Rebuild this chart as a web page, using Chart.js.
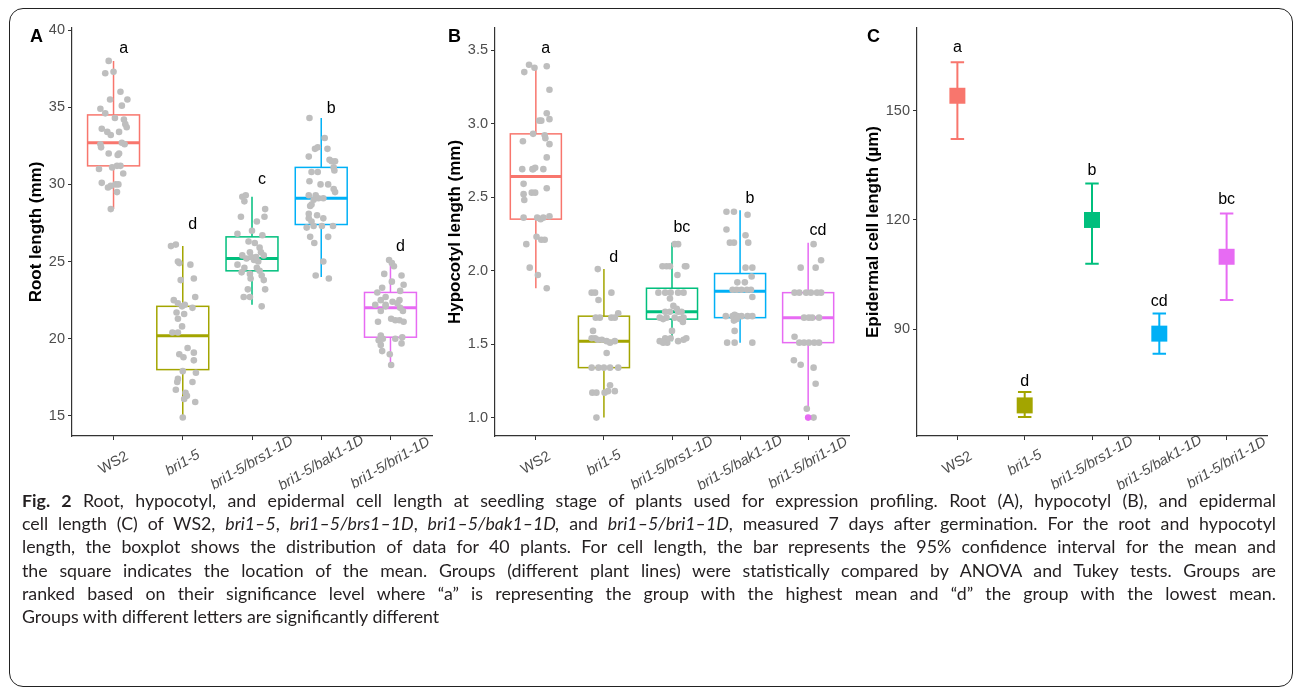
<!DOCTYPE html>
<html>
<head>
<meta charset="utf-8">
<script src="https://cdn.jsdelivr.net/npm/chart.js@4.4.1/dist/chart.umd.min.js"></script>
<style>
  html, body { margin: 0; padding: 0; background: #fff; }
  #page { position: relative; width: 1295px; height: 691px; overflow: hidden; }
  #frame { position: absolute; left: 9px; top: 8px; width: 1284px; height: 679px; box-sizing: border-box;
           border: 1.5px solid #222; border-radius: 14px; }
  canvas { position: absolute; top: 0; }
  .tag { position: absolute; font: bold 18px "Liberation Sans", Arial, sans-serif; line-height: 18px; color: #000; }
  #cap { position: absolute; left: 22px; top: 489px; width: 1254px; font-family: Lato, "Noto Sans", sans-serif;
         font-size: 17.8px; line-height: 23.2px; color: #231f20; }
  #cap .ln { text-align: justify; text-align-last: justify; white-space: nowrap; }
  #cap .ln.last { text-align-last: left; }
</style>
</head>
<body>
<div id="page">
  <div id="frame"></div>
  <canvas id="chartA" width="430" height="490" style="left:10px"></canvas>
  <canvas id="chartB" width="420" height="490" style="left:440px"></canvas>
  <canvas id="chartC" width="420" height="490" style="left:860px"></canvas>
  <div class="tag" style="left:30px;top:27px">A</div>
  <div class="tag" style="left:448px;top:27px">B</div>
  <div class="tag" style="left:867px;top:27px">C</div>
  <div id="cap">
    <div class="ln"><b>Fig. 2</b> Root, hypocotyl, and epidermal cell length at seedling stage of plants used for expression profiling. Root (A), hypocotyl (B), and epidermal</div>
    <div class="ln">cell length (C) of WS2, <i>bri1–5</i>, <i>bri1–5/brs1–1D</i>, <i>bri1–5/bak1–1D,</i> and <i>bri1–5/bri1–1D</i>, measured 7 days after germination. For the root and hypocotyl</div>
    <div class="ln">length, the boxplot shows the distribution of data for 40 plants. For cell length, the bar represents the 95% confidence interval for the mean and</div>
    <div class="ln">the square indicates the location of the mean. Groups (different plant lines) were statistically compared by ANOVA and Tukey tests. Groups are</div>
    <div class="ln">ranked based on their significance level where “a” is representing the group with the highest mean and “d” the group with the lowest mean.</div>
    <div class="ln last">Groups with different letters are significantly different</div>
  </div>
</div>

<script>
// Lignes de plantes (axe X commun aux trois panneaux)
const categories = ['WS2', 'bri1-5', 'bri1-5/brs1-1D', 'bri1-5/bak1-1D', 'bri1-5/bri1-1D'];
const palette = ['#F8766D', '#A3A500', '#00BF7D', '#00B0F6', '#E76BF3'];

// --- A : longueur racinaire (mm) ---
// [min, Q1, médiane, Q3, max]
const rootStats = [
    [28.4, 31.2, 32.7, 34.5, 38.0],
    [14.9, 18.0, 20.2, 22.1, 26.0],
    [22.2, 24.4, 25.2, 26.6, 29.2],
    [24.0, 27.4, 29.1, 31.1, 34.3],
    [18.4, 20.1, 22.0, 23.0, 25.2]
];
const rootLetters = ['a', 'd', 'c', 'b', 'd'];
const rootLetterY = [38.8, 27.4, 30.3, 34.9, 26.0];
const rootTicks = [15, 20, 25, 30, 35, 40];

// points individuels : [décalage jitter, valeur]
const rootWS2 = [[-0.07,38.0],[-0.12,37.2],[0.0,37.3],[0.10,36.0],[-0.05,35.5],[0.20,35.5],[0.12,35.1],[-0.19,34.9],[-0.12,34.6],[0.02,34.3],[0.15,34.2],[0.17,33.9],[0.19,33.7],[-0.17,33.6],[-0.09,33.4],[-0.04,33.2],[0.08,33.4],[-0.19,32.6],[-0.18,32.4],[0.16,32.6],[-0.07,32.0],[0.06,31.9],[0.08,32.0],[-0.21,31.0],[-0.02,31.1],[0.05,31.2],[0.10,31.2],[0.14,30.7],[-0.17,30.1],[-0.08,29.8],[-0.04,29.9],[0.03,30.0],[0.07,30.0],[0.05,29.5],[-0.04,28.4],[0.12,32.7]];
const rootBri15 = [[-0.17,26.0],[-0.10,26.1],[-0.07,25.0],[-0.05,24.9],[0.11,24.8],[-0.03,23.8],[0.16,23.9],[0.18,22.7],[-0.13,22.5],[-0.07,22.3],[-0.01,22.1],[0.03,22.2],[0.14,22.0],[-0.09,21.7],[0.02,21.6],[-0.07,21.3],[-0.01,20.8],[-0.15,20.4],[-0.07,20.4],[0.07,19.4],[-0.05,19.0],[0.01,18.8],[0.16,19.1],[0.16,18.6],[0.0,17.9],[0.19,17.8],[-0.07,17.4],[-0.08,17.2],[0.14,17.2],[-0.10,16.7],[0.04,16.5],[0.06,16.3],[0.02,16.1],[0.18,15.9],[0.0,14.9]];
const rootBrs1 = [[-0.14,29.2],[-0.09,29.3],[-0.11,28.9],[0.19,28.4],[-0.16,27.9],[0.18,27.9],[0.07,27.6],[0.0,27.0],[-0.21,26.8],[0.15,26.7],[-0.05,26.3],[0.04,26.2],[0.11,25.9],[-0.03,25.6],[0.13,25.6],[0.17,25.4],[-0.14,25.4],[-0.08,25.2],[0.03,25.1],[0.09,25.0],[-0.21,24.8],[-0.11,24.6],[0.07,24.6],[-0.15,24.3],[-0.03,24.2],[0.14,24.1],[-0.02,23.9],[0.17,23.8],[-0.06,23.2],[0.19,23.2],[-0.12,22.7],[-0.03,22.7],[0.14,22.1],[-0.01,25.3],[0.06,25.3],[0.11,24.4]];
const rootBak1 = [[-0.17,34.3],[0.05,33.0],[-0.09,32.3],[-0.05,32.4],[0.09,32.3],[-0.18,31.8],[0.12,31.6],[0.15,31.5],[0.20,31.5],[0.18,31.1],[0.19,30.9],[-0.14,30.8],[-0.05,30.8],[-0.17,30.2],[-0.01,30.0],[0.10,30.0],[0.18,29.7],[0.20,29.5],[-0.18,29.3],[-0.08,29.3],[-0.04,29.1],[0.03,29.1],[-0.11,29.0],[-0.16,28.6],[-0.14,28.7],[-0.18,28.1],[-0.06,28.0],[0.03,27.8],[-0.18,27.8],[-0.14,27.6],[-0.11,27.3],[0.17,27.3],[-0.21,27.2],[0.01,27.3],[-0.16,26.6],[0.10,26.6],[-0.10,26.2],[0.03,25.0],[-0.08,24.1],[0.11,23.9]];
const rootBri1D = [[-0.02,25.1],[0.02,24.9],[0.05,24.7],[-0.09,24.2],[0.16,24.1],[0.02,23.7],[0.19,23.5],[-0.12,23.3],[0.14,23.1],[-0.19,23.0],[-0.07,22.7],[-0.14,22.5],[0.13,22.5],[0.03,22.4],[-0.22,22.2],[-0.07,22.1],[0.14,22.0],[-0.14,21.8],[0.18,21.8],[0.01,21.3],[0.07,21.2],[-0.18,21.1],[0.13,21.2],[0.19,21.1],[-0.14,20.2],[-0.11,20.0],[0.07,20.0],[0.17,20.1],[-0.17,19.9],[0.16,19.7],[-0.14,19.6],[-0.12,19.2],[-0.01,19.0],[0.01,18.3],[-0.07,22.2],[0.10,22.3]];

// --- B : longueur de l'hypocotyle (mm) ---
const hypoStats = [
    [1.88, 2.35, 2.64, 2.93, 3.38],
    [1.00, 1.34, 1.52, 1.69, 2.01],
    [1.52, 1.67, 1.72, 1.88, 2.19],
    [1.51, 1.68, 1.86, 1.98, 2.41],
    [1.06, 1.51, 1.68, 1.85, 2.19]
];
const hypoOutliers = [[], [], [], [], [1.0]];
const hypoLetters = ['a', 'd', 'bc', 'b', 'cd'];
const hypoLetterY = [3.51, 2.09, 2.29, 2.49, 2.27];
const hypoTicks = [1.0, 1.5, 2.0, 2.5, 3.0, 3.5];

const hypoWS2 = [[-0.17,3.35],[-0.10,3.40],[-0.02,3.38],[0.16,3.39],[0.20,3.23],[0.05,3.02],[0.16,3.07],[0.20,3.03],[0.08,3.02],[-0.04,2.93],[0.13,2.92],[0.14,2.90],[-0.19,2.88],[0.20,2.86],[0.16,2.77],[-0.20,2.69],[-0.05,2.69],[-0.01,2.70],[0.11,2.69],[-0.18,2.59],[-0.18,2.52],[-0.06,2.53],[-0.01,2.53],[0.16,2.56],[-0.17,2.48],[-0.18,2.36],[0.02,2.36],[0.07,2.35],[0.20,2.37],[0.01,2.23],[0.08,2.21],[0.13,2.21],[-0.14,2.18],[-0.09,2.02],[0.03,1.97],[0.16,1.88],[0.11,2.36],[-0.04,2.69]];
const hypoBri15 = [[-0.09,2.01],[-0.18,1.85],[-0.13,1.85],[0.11,1.85],[-0.08,1.80],[-0.12,1.68],[-0.06,1.68],[0.11,1.68],[0.16,1.68],[0.21,1.71],[-0.16,1.59],[-0.18,1.54],[-0.13,1.54],[-0.03,1.53],[0.04,1.52],[0.09,1.51],[0.16,1.52],[-0.09,1.53],[0.04,1.44],[-0.18,1.34],[-0.08,1.34],[0.0,1.34],[0.09,1.34],[0.21,1.34],[0.09,1.22],[-0.17,1.17],[-0.11,1.17],[0.01,1.17],[0.06,1.18],[0.16,1.18],[-0.11,1.0]];
const hypoBrs1 = [[0.04,2.18],[0.09,2.18],[-0.14,2.03],[-0.08,2.03],[-0.03,2.03],[0.19,2.03],[0.21,2.03],[0.08,1.97],[-0.20,1.85],[-0.10,1.85],[-0.02,1.85],[0.09,1.85],[0.17,1.85],[-0.03,1.81],[0.02,1.76],[0.07,1.74],[-0.10,1.72],[-0.03,1.72],[0.09,1.72],[0.14,1.72],[-0.18,1.68],[-0.08,1.68],[0.04,1.68],[0.17,1.68],[-0.13,1.67],[0.12,1.67],[0.16,1.65],[0.0,1.59],[-0.10,1.54],[-0.02,1.54],[-0.07,1.51],[0.09,1.52],[0.17,1.53],[0.21,1.54],[-0.18,1.52],[-0.13,1.51]];
const hypoBak1 = [[-0.20,2.40],[-0.09,2.40],[0.11,2.38],[-0.20,2.28],[0.08,2.24],[-0.15,2.19],[-0.09,2.19],[0.12,2.19],[0.08,2.02],[0.18,2.02],[-0.04,1.92],[0.07,1.92],[0.17,1.96],[-0.11,1.87],[-0.05,1.87],[0.02,1.87],[0.10,1.87],[0.16,1.87],[0.18,1.82],[-0.21,1.69],[-0.11,1.69],[-0.08,1.70],[-0.04,1.69],[0.02,1.69],[0.11,1.69],[0.18,1.69],[-0.09,1.66],[-0.05,1.67],[-0.08,1.59],[-0.19,1.51],[-0.08,1.51],[0.18,1.51]];
const hypoBri1D = [[0.08,2.18],[0.19,2.07],[-0.11,2.02],[0.11,2.02],[-0.20,1.85],[-0.13,1.85],[-0.03,1.85],[0.13,1.85],[0.19,1.85],[0.04,1.85],[-0.06,1.68],[0.01,1.68],[0.16,1.68],[0.06,1.68],[-0.20,1.55],[-0.13,1.51],[-0.06,1.51],[0.01,1.51],[0.09,1.51],[0.16,1.51],[-0.21,1.39],[-0.11,1.36],[0.08,1.34],[0.11,1.23],[-0.02,1.06],[0.08,1.0]];

// --- C : longueur des cellules épidermiques (µm), moyenne et IC 95 % ---
const cellMeans = [154.1, 69.1, 120.0, 88.8, 109.9];
const cellLow = [142.2, 65.9, 108.0, 83.3, 98.0];
const cellHigh = [163.3, 72.8, 130.0, 94.3, 121.8];
const cellLetters = ['a', 'd', 'b', 'cd', 'bc'];
const cellLetterY = [167.2, 75.7, 133.5, 97.7, 125.5];
const cellTicks = [90, 120, 150];

const FAMILY = '"Liberation Sans", Arial, sans-serif';

/**
 * Aplatit les groupes [jitter, valeur] en points {x, y}
 */
function toPoints(groups) {
    const out = [];
    groups.forEach((pts, i) => pts.forEach(([j, v]) => out.push({ x: i + j, y: v })));
    return out;
}

// Étiquettes de l'axe X, tournées de 30° et centrées sur le repère
const xLabelPlugin = {
    id: 'xLabels',
    afterDraw(chart) {
        const { ctx, chartArea, scales: { x } } = chart;
        ctx.save();
        ctx.fillStyle = '#4d4d4d';
        ctx.textAlign = 'center';
        ctx.textBaseline = 'middle';
        categories.forEach((c, i) => {
            ctx.save();
            ctx.translate(x.getPixelForValue(i), chartArea.bottom + 27);
            ctx.rotate(-Math.PI / 6);
            ctx.font = (i === 0 ? '' : 'italic ') + '14.5px ' + FAMILY;
            ctx.fillText(c, 0, 0);
            ctx.restore();
        });
        ctx.restore();
    }
};

// Lettres de significativité au-dessus de chaque groupe
function letterPlugin(letters, ys, nudge) {
    return {
        id: 'letters',
        afterDatasetsDraw(chart) {
            const { ctx, scales: { x, y } } = chart;
            ctx.save();
            ctx.fillStyle = '#000';
            ctx.font = '16px ' + FAMILY;
            ctx.textAlign = 'center';
            ctx.textBaseline = 'middle';
            letters.forEach((l, i) => ctx.fillText(l, x.getPixelForValue(i + nudge), y.getPixelForValue(ys[i])));
            ctx.restore();
        }
    };
}

// Boîtes à moustaches dessinées avant les points
function boxPlugin(stats) {
    return {
        id: 'boxes',
        beforeDatasetsDraw(chart) {
            const { ctx, scales: { x, y } } = chart;
            stats.forEach(([lo, q1, med, q3, hi], i) => {
                const cx = x.getPixelForValue(i);
                const x0 = x.getPixelForValue(i - 0.375);
                const x1 = x.getPixelForValue(i + 0.375);
                const yQ1 = y.getPixelForValue(q1), yQ3 = y.getPixelForValue(q3);
                ctx.save();
                ctx.strokeStyle = palette[i];
                ctx.lineWidth = 1.5;
                ctx.beginPath();
                ctx.moveTo(cx, y.getPixelForValue(hi)); ctx.lineTo(cx, yQ3);
                ctx.moveTo(cx, yQ1); ctx.lineTo(cx, y.getPixelForValue(lo));
                ctx.stroke();
                ctx.fillStyle = '#fff';
                ctx.fillRect(x0, yQ3, x1 - x0, yQ1 - yQ3);
                ctx.strokeRect(x0, yQ3, x1 - x0, yQ1 - yQ3);
                ctx.lineWidth = 3;
                ctx.beginPath();
                ctx.moveTo(x0, y.getPixelForValue(med)); ctx.lineTo(x1, y.getPixelForValue(med));
                ctx.stroke();
                ctx.restore();
            });
        }
    };
}

// Barres d'erreur (IC 95 %) du panneau C
const errorBarPlugin = {
    id: 'errorBars',
    beforeDatasetsDraw(chart) {
        const { ctx, scales: { x, y } } = chart;
        cellMeans.forEach((m, i) => {
            const cx = x.getPixelForValue(i);
            const a = x.getPixelForValue(i - 0.1), b = x.getPixelForValue(i + 0.1);
            const yl = y.getPixelForValue(cellLow[i]), yh = y.getPixelForValue(cellHigh[i]);
            ctx.save();
            ctx.strokeStyle = palette[i];
            ctx.lineWidth = 2;
            ctx.beginPath();
            ctx.moveTo(cx, yh); ctx.lineTo(cx, yl);
            ctx.moveTo(a, yh); ctx.lineTo(b, yh);
            ctx.moveTo(a, yl); ctx.lineTo(b, yl);
            ctx.stroke();
            ctx.restore();
        });
    }
};

function chartOptions(o) {
    const axisLine = { display: true, color: '#333', width: 1.2 };
    const ticksOut = { drawOnChartArea: false, drawTicks: true, tickLength: 4, color: '#333', lineWidth: 1 };
    return {
        responsive: false,
        animation: false,
        layout: { padding: { top: 28, right: o.padRight, bottom: 0, left: 0 } },
        plugins: { legend: { display: false }, tooltip: { enabled: false } },
        scales: {
            x: {
                type: 'linear', min: -0.6, max: 4.6,
                afterBuildTicks: s => { s.ticks = categories.map((c, i) => ({ value: i })); },
                afterFit: s => { s.height = 54; },
                ticks: { display: false },
                grid: ticksOut,
                border: axisLine
            },
            y: {
                type: 'linear', min: o.yMin, max: o.yMax,
                afterBuildTicks: s => { s.ticks = o.yTicks.map(v => ({ value: v })); },
                afterFit: s => { s.width = o.axisWidth; },
                ticks: { color: '#4d4d4d', font: { family: FAMILY, size: 14.5 }, padding: 3,
                         callback: v => v.toFixed(o.dec) },
                grid: ticksOut,
                border: axisLine,
                title: { display: true, text: o.title, color: '#000',
                         font: { family: FAMILY, size: 17, weight: 'bold' },
                         padding: { top: o.titlePad, bottom: 0 } }
            }
        }
    };
}

const grayPoints = data => ({
    data, pointRadius: 3.3, pointBackgroundColor: '#bebebe', pointBorderWidth: 0, pointHoverRadius: 3.3
});

new Chart(document.getElementById('chartA'), {
    type: 'scatter',
    data: { datasets: [grayPoints(toPoints([rootWS2, rootBri15, rootBrs1, rootBak1, rootBri1D]))] },
    options: chartOptions({ yMin: 13.7, yMax: 40.13, yTicks: rootTicks, dec: 0, axisWidth: 62,
                            padRight: 8, title: 'Root length (mm)', titlePad: 16 }),
    plugins: [boxPlugin(rootStats), letterPlugin(rootLetters, rootLetterY, 0.145), xLabelPlugin]
});

new Chart(document.getElementById('chartB'), {
    type: 'scatter',
    data: {
        datasets: [
            {
                data: hypoOutliers.flatMap((vals, i) => vals.map(v => ({ x: i, y: v }))),
                pointRadius: 3.3, pointBorderWidth: 0,
                pointBackgroundColor: ctx => palette[Math.round(ctx.raw ? ctx.raw.x : 0)]
            },
            grayPoints(toPoints([hypoWS2, hypoBri15, hypoBrs1, hypoBak1, hypoBri1D]))
        ]
    },
    options: chartOptions({ yMin: 0.875, yMax: 3.65, yTicks: hypoTicks, dec: 1, axisWidth: 55,
                            padRight: 11, title: 'Hypocotyl length (mm)', titlePad: 5 }),
    plugins: [boxPlugin(hypoStats), letterPlugin(hypoLetters, hypoLetterY, 0.145), xLabelPlugin]
});

new Chart(document.getElementById('chartC'), {
    type: 'scatter',
    data: {
        datasets: [{
            data: cellMeans.map((m, i) => ({ x: i, y: m })),
            pointStyle: 'rect', pointRadius: 11.3, pointBorderWidth: 0, pointHoverRadius: 11.3,
            pointBackgroundColor: palette
        }]
    },
    options: chartOptions({ yMin: 60.7, yMax: 172.7, yTicks: cellTicks, dec: 0, axisWidth: 57,
                            padRight: 13, title: 'Epidermal cell length (µm)', titlePad: 3 }),
    plugins: [errorBarPlugin, letterPlugin(cellLetters, cellLetterY, 0), xLabelPlugin]
});
</script>
</body>
</html>
